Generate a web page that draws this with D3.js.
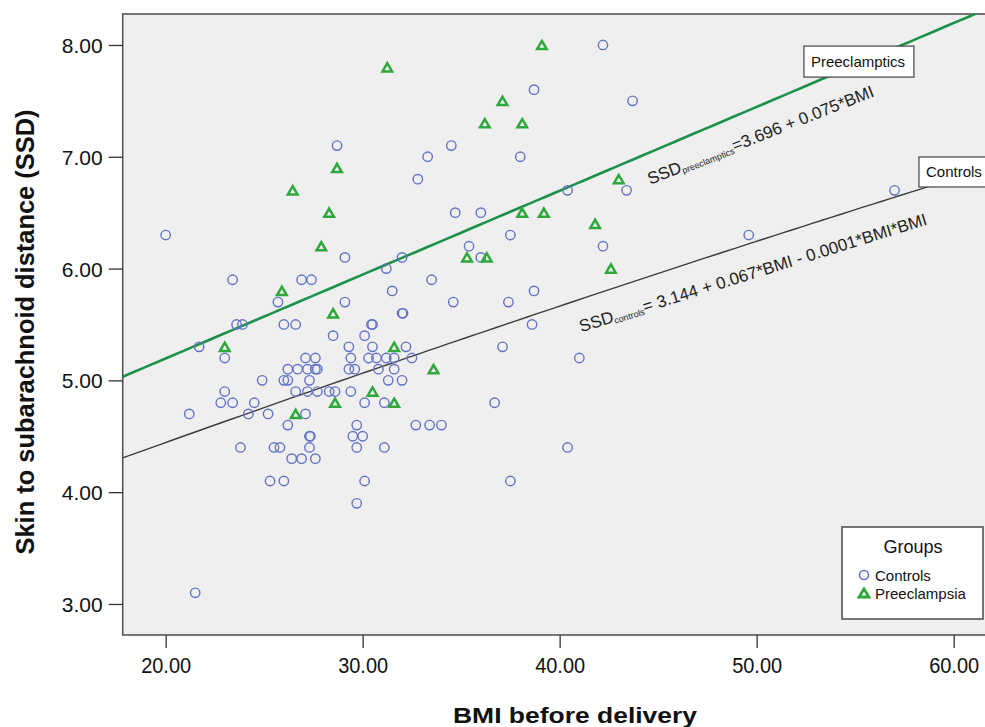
<!DOCTYPE html>
<html>
<head>
<meta charset="utf-8">
<script src="https://cdn.jsdelivr.net/npm/d3@7"></script>
<style>
	body { margin: 0; background: #fff; }
	svg { display: block; font-family: Arial, "Liberation Sans", sans-serif; }
</style>
</head>
<body>
<div id="chart"></div>
<script>
// DATA

// controls, drawn as circles
var controlsBMI = [20.0, 28.7, 33.3, 32.8, 34.5, 29.1, 32.0, 31.2, 23.4, 26.9, 27.4, 33.5, 31.5, 25.7, 29.1, 34.6,
	32.0, 32.05, 23.6, 23.9, 26.0, 26.6, 30.5, 30.45, 42.2, 38.7, 43.7, 38.0, 40.4, 43.4, 34.7, 36.0,
	37.5, 35.4, 36.0, 42.2, 49.6, 37.4, 38.7, 38.6, 37.1, 41.0, 36.7, 33.4, 34.0, 32.7, 40.4, 37.5,
	57.0, 28.5, 30.1, 21.7, 29.3, 30.5, 32.2, 23.0, 27.1, 27.6, 29.4, 30.3, 30.7, 31.2, 31.6, 32.5,
	26.2, 26.7, 27.2, 27.6, 27.7, 29.3, 29.6, 30.8, 31.6, 24.9, 26.0, 26.2, 27.3, 31.3, 32.0, 23.0,
	26.6, 27.2, 27.7, 28.3, 28.6, 29.4, 22.8, 23.4, 24.5, 30.1, 31.1, 21.2, 24.2, 25.2, 27.1, 26.2,
	29.7, 27.3, 27.35, 29.5, 30.0, 23.8, 25.5, 25.8, 27.3, 29.7, 31.1, 26.4, 26.9, 27.6, 25.3, 26.0,
	30.1, 29.7, 21.5];
var controlsSSD = [6.3, 7.1, 7.0, 6.8, 7.1, 6.1, 6.1, 6.0, 5.9, 5.9, 5.9, 5.9, 5.8, 5.7, 5.7, 5.7,
	5.6, 5.6, 5.5, 5.5, 5.5, 5.5, 5.5, 5.5, 8.0, 7.6, 7.5, 7.0, 6.7, 6.7, 6.5, 6.5,
	6.3, 6.2, 6.1, 6.2, 6.3, 5.7, 5.8, 5.5, 5.3, 5.2, 4.8, 4.6, 4.6, 4.6, 4.4, 4.1,
	6.7, 5.4, 5.4, 5.3, 5.3, 5.3, 5.3, 5.2, 5.2, 5.2, 5.2, 5.2, 5.2, 5.2, 5.2, 5.2,
	5.1, 5.1, 5.1, 5.1, 5.1, 5.1, 5.1, 5.1, 5.1, 5.0, 5.0, 5.0, 5.0, 5.0, 5.0, 4.9,
	4.9, 4.9, 4.9, 4.9, 4.9, 4.9, 4.8, 4.8, 4.8, 4.8, 4.8, 4.7, 4.7, 4.7, 4.7, 4.6,
	4.6, 4.5, 4.5, 4.5, 4.5, 4.4, 4.4, 4.4, 4.4, 4.4, 4.4, 4.3, 4.3, 4.3, 4.1, 4.1,
	4.1, 3.9, 3.1];

// preeclampsia, drawn as triangles
var preBMI = [31.25, 28.7, 26.45, 28.3, 27.9, 25.9, 28.5, 39.1, 37.1, 36.2, 38.1, 43.0, 38.1,
	39.2, 41.8, 35.3, 36.3, 42.6, 23.0, 31.6, 33.6, 30.5, 28.6, 31.6, 26.6];
var preSSD = [7.8, 6.9, 6.7, 6.5, 6.2, 5.8, 5.6, 8.0, 7.5, 7.3, 7.3, 6.8, 6.5,
	6.5, 6.4, 6.1, 6.1, 6.0, 5.3, 5.3, 5.1, 4.9, 4.8, 4.8, 4.7];

// fit lines: intercept, BMI, BMI*BMI
var preFit = [3.696, 0.075];
var controlsFit = [3.144, 0.067, -0.0001];

var xTicks = [20, 30, 40, 50, 60];
var yTicks = [3, 4, 5, 6, 7, 8];
var groupNames = ["Controls", "Preeclampsia"];

// SETUP
var W = 985, H = 727;
var margin = { top: 14, left: 122.7 };
var width = 866, height = 621;

var x = d3.scaleLinear().domain([17.82, 17.82 + width / 19.7]).range([0, width]);
var y = d3.scaleLinear().domain([8.277 - height / 111.8, 8.277]).range([height, 0]);

var circleColor = "#6272c6",
	triColor = "#2ea83a",
	preLineColor = "#1b914a",
	ctrlLineColor = "#3c3c3c";

var svg = d3.select("#chart").append("svg")
	.attr("width", W)
	.attr("height", H);

svg.append("defs").append("clipPath")
	.attr("id", "plotclip")
	.append("rect")
	.attr("width", width)
	.attr("height", height);

var plot = svg.append("g")
	.attr("transform", "translate(" + margin.left + "," + margin.top + ")");

plot.append("rect")
	.attr("width", width)
	.attr("height", height)
	.attr("fill", "#efefef")
	.attr("stroke", "#555")
	.attr("stroke-width", 1.6);

// AXES
var yAxis = d3.axisLeft(y).tickValues(yTicks).tickSize(14).tickFormat(d3.format(".2f"));
var xAxis = d3.axisBottom(x).tickValues(xTicks).tickSize(13).tickFormat(d3.format(".2f"));

var yg = plot.append("g").call(yAxis);
var xg = plot.append("g").attr("transform", "translate(0," + height + ")").call(xAxis);

[yg, xg].forEach(function(g) {
	g.select(".domain").remove();
	g.selectAll(".tick line").attr("stroke", "#333").attr("stroke-width", 1.3);
	g.selectAll(".tick text").attr("fill", "#111").attr("font-family", "Arial, 'Liberation Sans', sans-serif");
});

yg.selectAll(".tick text")
	.attr("font-size", 21)
	.attr("x", -20)
	.attr("dy", "0.36em");

xg.selectAll(".tick text")
	.attr("font-size", 22)
	.attr("y", 38)
	.attr("dy", 0)
	.attr("textLength", 50)
	.attr("lengthAdjust", "spacingAndGlyphs");

// axis titles
svg.append("text")
	.attr("transform", "translate(34," + (margin.top + 318) + ")rotate(-90)")
	.attr("text-anchor", "middle")
	.attr("font-size", 26)
	.attr("font-weight", "bold")
	.attr("fill", "#111")
	.attr("textLength", 445)
	.attr("lengthAdjust", "spacingAndGlyphs")
	.text("Skin to subarachnoid distance (SSD)");

svg.append("text")
	.attr("x", 575)
	.attr("y", 723)
	.attr("text-anchor", "middle")
	.attr("font-size", 22)
	.attr("font-weight", "bold")
	.attr("fill", "#111")
	.attr("textLength", 244)
	.attr("lengthAdjust", "spacingAndGlyphs")
	.text("BMI before delivery");

// FIT LINES
var data_layer = plot.append("g").attr("clip-path", "url(#plotclip)");

var bmiSteps = d3.range(x.domain()[0], x.domain()[1] + 0.5, 0.5);

var line = function(coef) {
	return d3.line()
		.x(function(b) { return x(b); })
		.y(function(b) {
			return y(coef[0] + coef[1] * b + (coef[2] || 0) * b * b);
		})(bmiSteps);
};

data_layer.append("path")
	.attr("d", line(controlsFit))
	.attr("fill", "none")
	.attr("stroke", ctrlLineColor)
	.attr("stroke-width", 1.4);

data_layer.append("path")
	.attr("d", line(preFit))
	.attr("fill", "none")
	.attr("stroke", preLineColor)
	.attr("stroke-width", 2.6);

// POINTS
var triangle = function(w, h) {
	return "M0," + (-h / 2) + "L" + (w / 2) + "," + (h / 2) + "L" + (-w / 2) + "," + (h / 2) + "Z";
};

data_layer.selectAll("circle.ctrl")
	.data(controlsBMI)
	.enter().append("circle")
	.attr("class", "ctrl")
	.attr("cx", function(d) { return x(d); })
	.attr("cy", function(d, i) { return y(controlsSSD[i]); })
	.attr("r", 4.7)
	.attr("fill", "none")
	.attr("stroke", circleColor)
	.attr("stroke-width", 1.4);

data_layer.selectAll("path.pre")
	.data(preBMI)
	.enter().append("path")
	.attr("class", "pre")
	.attr("d", triangle(9.6, 8.2))
	.attr("transform", function(d, i) { return "translate(" + x(d) + "," + y(preSSD[i]) + ")"; })
	.attr("fill", "none")
	.attr("stroke", triColor)
	.attr("stroke-width", 2.5)
	.attr("stroke-linejoin", "miter");

// EQUATIONS along the lines
var equation = function(bmi, ssd, angle, sub, rest) {
	var t = plot.append("text")
		.attr("transform", "translate(" + x(bmi) + "," + y(ssd) + ")rotate(" + (-angle) + ")")
		.attr("font-size", 17)
		.attr("fill", "#222");
	t.append("tspan").text("SSD");
	t.append("tspan").attr("font-size", 9).attr("dy", 2).text(sub);
	t.append("tspan").attr("dy", -2).text(rest);
};

equation(44.6, 6.75, 21.5, "preeclamptics", "=3.696 + 0.075*BMI");
equation(41.1, 5.43, 17.3, "controls", "= 3.144 + 0.067*BMI - 0.0001*BMI*BMI");

// line labels
var lineLabel = function(bmi, ssd, w, h, label) {
	var g = plot.append("g")
		.attr("transform", "translate(" + x(bmi) + "," + y(ssd) + ")");
	g.append("rect")
		.attr("width", w)
		.attr("height", h)
		.attr("fill", "#fff")
		.attr("stroke", "#444")
		.attr("stroke-width", 1.2);
	g.append("text")
		.attr("x", 7)
		.attr("y", h / 2 + 5.5)
		.attr("font-size", 15)
		.attr("fill", "#111")
		.text(label);
};

lineLabel(52.4, 7.99, 110, 31, "Preeclamptics");
lineLabel(58.24, 6.998, 75, 30, "Controls");

// LEGEND
var legend = svg.append("g").attr("transform", "translate(842,527)");

legend.append("rect")
	.attr("width", 141)
	.attr("height", 92)
	.attr("fill", "#fff")
	.attr("stroke", "#555")
	.attr("stroke-width", 1.6);

legend.append("text")
	.attr("x", 71)
	.attr("y", 26)
	.attr("text-anchor", "middle")
	.attr("font-size", 18)
	.attr("fill", "#111")
	.text("Groups");

legend.append("circle")
	.attr("cx", 22)
	.attr("cy", 48)
	.attr("r", 4.5)
	.attr("fill", "none")
	.attr("stroke", circleColor)
	.attr("stroke-width", 1.6);

legend.append("path")
	.attr("d", triangle(10, 8))
	.attr("transform", "translate(22,66)")
	.attr("fill", "none")
	.attr("stroke", triColor)
	.attr("stroke-width", 2.8);

legend.selectAll("text.item")
	.data(groupNames)
	.enter().append("text")
	.attr("class", "item")
	.attr("x", 33)
	.attr("y", function(d, i) { return 54 + i * 18; })
	.attr("font-size", 15)
	.attr("fill", "#111")
	.text(function(d) { return d; });
</script>
</body>
</html>
